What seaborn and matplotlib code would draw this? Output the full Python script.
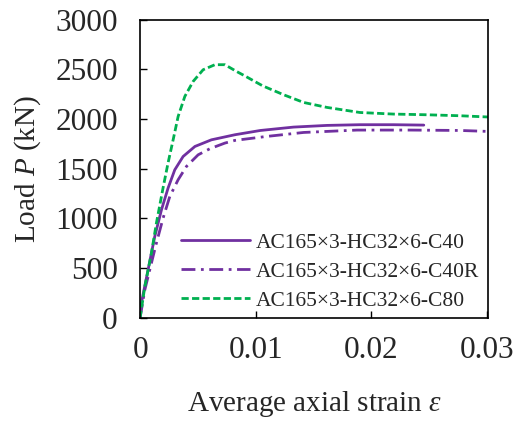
import numpy as np
import pandas as pd
import matplotlib
matplotlib.use("Agg")
import matplotlib.pyplot as plt
import seaborn as sns

# curves: strain, load (kN)
c40_strain = [0, 0.00011, 0.00069, 0.00127, 0.00185, 0.00242, 0.003, 0.00372, 0.00474,
              0.00617, 0.0082, 0.0104, 0.01327, 0.01616, 0.0190, 0.0219, 0.02453]
c40_load = [0, 148, 483, 819, 1088, 1306, 1490, 1624, 1725,
            1792, 1843, 1886, 1920, 1937, 1944, 1944, 1940]

c40r_strain = [0, 0.00041, 0.00098, 0.00141, 0.00199, 0.00257, 0.00329, 0.00401, 0.00502,
               0.00603, 0.00733, 0.0082, 0.01094, 0.01414, 0.01876, 0.02338, 0.0277, 0.0302]
c40r_load = [0, 282, 551, 752, 1004, 1222, 1390, 1524, 1641,
             1702, 1759, 1786, 1826, 1866, 1890, 1890, 1886, 1876]

c80_strain = [0, 0.00041, 0.00098, 0.00141, 0.00199, 0.00242, 0.00286, 0.00329, 0.00387,
              0.00459, 0.00545, 0.00647, 0.00733, 0.00834, 0.00906, 0.0106, 0.0124,
              0.01414, 0.01616, 0.0190, 0.0219, 0.0248, 0.0277, 0.0302]
c80_load = [0, 315, 651, 953, 1310, 1560, 1793, 2027, 2229,
            2380, 2497, 2548, 2548, 2480, 2435, 2335, 2246,
            2168, 2118, 2067, 2051, 2044, 2034, 2021]

labels = ["AC165×3-HC32×6-C40", "AC165×3-HC32×6-C40R", "AC165×3-HC32×6-C80"]
x_ticks = [0, 0.01, 0.02, 0.03]
x_ticklabels = ["0", "0.01", "0.02", "0.03"]
y_ticks = [0, 500, 1000, 1500, 2000, 2500, 3000]

sns.set_style("ticks")
plt.rcParams["font.family"] = ["Liberation Serif", "DejaVu Serif"]
plt.rcParams["mathtext.fontset"] = "custom"
plt.rcParams["mathtext.rm"] = "Liberation Serif"
plt.rcParams["mathtext.it"] = "Liberation Serif:italic"

purple = "#7030A0"
green = "#00B050"
dashdot = [5, 2, 1, 2]
dash = [2.6, 1.2]

fig = plt.figure(figsize=(5.15, 4.21), dpi=100)
ax = fig.add_axes([0.272, 0.245, 0.676, 0.708])

sns.lineplot(x=c40_strain, y=c40_load, ax=ax, color=purple, lw=2.0, sort=False,
             label=labels[0])
sns.lineplot(x=c40r_strain, y=c40r_load, ax=ax, color=purple, lw=2.0, sort=False,
             label=labels[1])
ax.lines[1].set_dashes(dashdot)
sns.lineplot(x=c80_strain, y=c80_load, ax=ax, color=green, lw=2.0, sort=False,
             label=labels[2])
ax.lines[2].set_dashes(dash)

ax.set_xlim(0, 0.0301)
ax.set_ylim(0, 3000)
ax.set_xticks(x_ticks)
ax.set_xticklabels(x_ticklabels)
ax.set_yticks(y_ticks)
ax.tick_params(direction="in", length=5, width=1, labelsize=22.5, pad=13, color="black")
ax.tick_params(axis="y", pad=16)
for s in ax.spines.values():
    s.set_visible(True)
    s.set_color("black")
    s.set_linewidth(1.2)

ax.set_xlabel("Average axial strain $\\mathit{\\varepsilon}$", fontsize=21, labelpad=17)
ax.set_ylabel("Load $\\mathit{P}$ (kN)", fontsize=21, labelpad=9)

leg = ax.legend(loc="lower left", bbox_to_anchor=(0.08, -0.02), frameon=False,
                fontsize=15.5, handlelength=3.2, handletextpad=0.3, labelspacing=0.42,
                borderaxespad=0.2)
for h in leg.get_lines():
    h.set_linewidth(2.0)
leg.get_lines()[1].set_dashes(dashdot)
leg.get_lines()[2].set_dashes(dash)

fig.savefig("out.png", dpi=100)
